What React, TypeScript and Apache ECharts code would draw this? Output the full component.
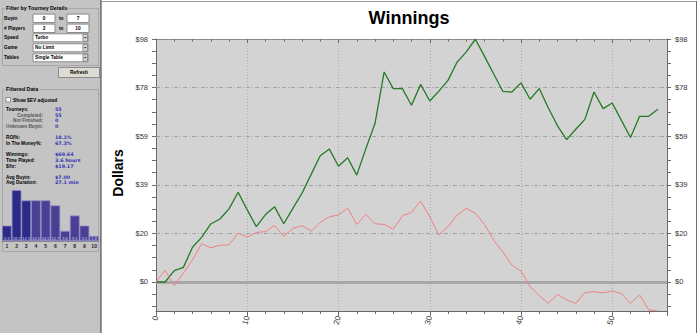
import React, { useEffect, useRef } from 'react';
import * as echarts from 'echarts';

// ---------- data ----------
const winnings = [0, 0, 4.6, 5.9, 14.0, 18.0, 23.4, 25.4, 29.5, 36.2, 29.1, 22.3, 27.2, 30.3, 23.5, 29.7, 35.8, 43.4, 50.9, 53.6, 46.7, 50.1, 43.1, 53.8, 63.9, 84.7, 78.0, 78.0, 71.3, 79.7, 73.0, 77.0, 81.3, 88.7, 92.8, 97.9, 91.0, 84.0, 76.9, 76.6, 80.3, 73.7, 78.0, 70.2, 63.0, 57.4, 61.6, 65.6, 76.6, 69.9, 72.2, 65.2, 58.3, 66.8, 66.8, 69.64];
const evAdjusted = [0, 4.7, -1.5, 3.5, 8.9, 15.4, 13.8, 14.8, 15.0, 19.7, 18.1, 20.0, 20.3, 22.8, 18.4, 21.6, 22.7, 20.5, 24.0, 26.3, 27.0, 29.9, 23.2, 27.2, 23.5, 23.2, 21.3, 26.7, 28.1, 32.6, 26.3, 18.9, 22.3, 27.0, 29.7, 27.7, 23.2, 16.9, 12.2, 6.8, 4.4, -1.9, -5.5, -8.6, -5.0, -7.2, -8.6, -4.3, -3.9, -4.4, -3.6, -4.7, -8.6, -5.2, -11.3, -11.7];

const yLabelValues = [0, 19.6, 39.2, 58.8, 78.4, 98];
const yTickValues = [-9.8, -4.9, 0, 4.9, 9.8, 14.7, 19.6, 24.5, 29.4, 34.3, 39.2, 44.1, 49, 53.9, 58.8, 63.7, 68.6, 73.5, 78.4, 83.3, 88.2, 93.1, 98];
const yMin = -11.7;
const yMax = 98;
const xMax = 56;

const finishPlaces = ['1', '2', '3', '4', '5', '6', '7', '8', '9', '10'];
const finishPct = [5.5, 18.2, 14.5, 14.5, 14.5, 12.7, 3.6, 9.1, 5.5, 1.8];

const filterLabels = ['Buyin', '# Players', 'Speed', 'Game', 'Tables'];
const buyinRange = ['0', '7'];
const playersRange = ['2', '10'];
const dropdownValues = ['Turbo', 'No Limit', 'Single Table'];

const statLabels = ['Tourneys:', 'Completed:', 'Not Finished:', 'Unknown Buyin:', 'ROI%:', 'In The Money%:', 'Winnings:', 'Time Played:', '$/hr:', 'Avg Buyin:', 'Avg Duration:'];
const statValues = ['55', '55', '0', '0', '18.1%', '67.3%', '$69.64', '3.6 hours', '$19.17', '$7.00', '27.1 min'];

// ---------- layout ----------
const SIDE_BG = '#c4c4c4';
const SF = '"Liberation Sans", Arial, sans-serif';
const DV = '"DejaVu Sans", Verdana, sans-serif';
const labelFont = `bold 4.7px ${SF}`;
const valueFont = `bold 4.8px ${DV}`;
const filterFont = `bold 4.8px ${SF}`;
const groupFont = `bold 5.3px ${SF}`;
const filterRowY = [18.3, 28.3, 37.8, 47.8, 57.8];
const statRowY = [109.3, 115, 120.4, 126.2, 137.3, 143.6, 154.7, 160.3, 166, 177, 182.7];
const statIndented = [false, true, true, true, false, false, false, false, false, false, false];

function txt(x: number, y: number, text: string, opts: any = {}) {
  return {
    type: 'text',
    x, y, z: 10,
    rotation: opts.rotation || 0,
    style: {
      text,
      fill: opts.fill || '#000',
      font: opts.font || labelFont,
      textAlign: opts.align || 'left',
      align: opts.align || 'left',
      textVerticalAlign: 'middle',
      verticalAlign: 'middle',
      backgroundColor: opts.bg,
      padding: opts.bg ? [0, 1] : undefined,
    },
  };
}
function box(x: number, y: number, w: number, h: number, fill: string, stroke: string, z = 5) {
  return { type: 'rect', z, shape: { x, y, width: w, height: h }, style: { fill, stroke, lineWidth: 1 } };
}

function buildGraphics() {
  const els: any[] = [];
  // sidebar background + separator
  els.push({ type: 'rect', z: 0, shape: { x: 0, y: 0, width: 101, height: 333 }, style: { fill: SIDE_BG } });
  els.push({ type: 'line', z: 1, shape: { x1: 100.5, y1: 0, x2: 100.5, y2: 333 }, style: { stroke: '#7a7a7a', lineWidth: 1 } });
  els.push({ type: 'line', z: 1, shape: { x1: 101.5, y1: 0, x2: 101.5, y2: 333 }, style: { stroke: '#9a9a9a', lineWidth: 1 } });
  // chart frame
  els.push({ type: 'line', z: 1, shape: { x1: 102, y1: 1.5, x2: 697, y2: 1.5 }, style: { stroke: '#9a9a9a', lineWidth: 1 } });
  els.push({ type: 'line', z: 1, shape: { x1: 696.5, y1: 1, x2: 696.5, y2: 333 }, style: { stroke: '#6e6e6e', lineWidth: 1 } });

  // group box 1
  els.push({ type: 'rect', z: 2, shape: { x: 2.5, y: 8.5, width: 96, height: 57 }, style: { fill: 'none', stroke: '#a8a8a8', lineWidth: 1 } });
  els.push(txt(5, 8, 'Filter by Tourney Details', { bg: SIDE_BG, font: groupFont }));
  filterLabels.forEach((l, i) => els.push(txt(4, filterRowY[i], l, { font: filterFont })));
  // range inputs
  [buyinRange, playersRange].forEach((rng, i) => {
    const y = filterRowY[i];
    els.push(box(33, y - 4.2, 22, 8.4, '#fff', '#8c8c8c'));
    els.push(box(67, y - 4.2, 22, 8.4, '#fff', '#8c8c8c'));
    els.push(txt(44, y, rng[0], { align: 'center', font: filterFont }));
    els.push(txt(78, y, rng[1], { align: 'center', font: filterFont }));
    els.push(txt(59, y, 'to', { font: filterFont }));
  });
  // dropdowns
  dropdownValues.forEach((v, k) => {
    const y = filterRowY[k + 2];
    els.push(box(33, y - 4, 55, 8, '#fff', '#8c8c8c'));
    els.push(box(83, y - 3.5, 4.5, 7, '#d8d8d8', '#8a8a8a', 6));
    els.push({ type: 'polygon', z: 7, shape: { points: [[84, y - 0.8], [86.5, y - 0.8], [85.25, y + 0.8]] }, style: { fill: '#222' } });
    els.push(txt(35, y, v, { font: filterFont }));
  });
  // refresh button
  els.push(box(58.5, 67.5, 41, 10, '#dedbd2', '#8c8c8c'));
  els.push(txt(79, 72.5, 'Refresh', { align: 'center', font: filterFont }));

  // group box 2
  els.push({ type: 'rect', z: 2, shape: { x: 2.5, y: 89.5, width: 96, height: 162 }, style: { fill: 'none', stroke: '#a8a8a8', lineWidth: 1 } });
  els.push(txt(5, 89, 'Filtered Data', { bg: SIDE_BG, font: groupFont }));
  els.push(box(6, 97.5, 4.5, 4.5, '#fff', '#8c8c8c'));
  els.push(txt(13, 100.3, 'Show $EV adjusted', { font: filterFont }));
  statLabels.forEach((l, i) => {
    if (statIndented[i]) els.push(txt(43, statRowY[i], l, { align: 'right', fill: '#555' }));
    else els.push(txt(6, statRowY[i], l));
    els.push(txt(55, statRowY[i], statValues[i], { fill: '#3232b4', font: valueFont }));
  });

  // title + axis name
  els.push(txt(409, 18, 'Winnings', { align: 'center', font: `bold 18px ${SF}`, fill: '#000' }));
  els.push(txt(118, 173, 'Dollars', { align: 'center', font: `bold 14px ${SF}`, fill: '#000', rotation: Math.PI / 2 }));
  return els;
}

const AXIS_C = '#6a6a6a';
const fmtDollar = (v: number) => '$' + Math.round(v);

const option: any = {
  animation: false,
  textStyle: { fontFamily: SF },
  grid: [
    { left: 156, right: 33, top: 39, bottom: 22, show: true, backgroundColor: '#d3d3d3', borderWidth: 0 },
    { left: 2, width: 97, top: 185, height: 56 },
  ],
  xAxis: [
    {
      gridIndex: 0, type: 'value', min: 0, max: xMax, interval: 10, position: 'bottom',
      axisLine: { show: true, onZero: false, lineStyle: { color: AXIS_C } },
      axisTick: { show: true, length: 5, lineStyle: { color: AXIS_C } },
      minorTick: { show: true, splitNumber: 5, length: 3, lineStyle: { color: AXIS_C } },
      axisLabel: { rotate: 75, fontSize: 8, color: '#333', margin: 5, showMaxLabel: false },
      splitLine: { show: true, lineStyle: { color: '#acacac', type: [1, 2] } },
    },
    {
      gridIndex: 0, type: 'value', min: 0, max: xMax, interval: 10, position: 'top',
      axisLine: { show: true, onZero: false, lineStyle: { color: '#8a8a8a' } },
      axisTick: { show: true, inside: true, length: 4, lineStyle: { color: AXIS_C } },
      minorTick: { show: true, splitNumber: 5, length: 2.5, lineStyle: { color: AXIS_C } },
      axisLabel: { show: false },
      splitLine: { show: false },
    },
    {
      gridIndex: 1, type: 'category', data: finishPlaces, z: 3,
      axisLine: { show: true, lineStyle: { color: '#8a8a8a' } },
      axisTick: { show: false },
      axisLabel: { fontSize: 5, fontWeight: 'bold', color: '#222', margin: 2 },
    },
  ],
  yAxis: [
    {
      gridIndex: 0, type: 'value', min: yMin, max: yMax, position: 'left',
      axisLine: { show: true, onZero: false, lineStyle: { color: AXIS_C } },
      axisTick: { show: true, length: 4, customValues: yTickValues, lineStyle: { color: AXIS_C } },
      axisLabel: { customValues: yLabelValues, formatter: fmtDollar, fontSize: 7.5, color: '#333', margin: 8 },
      splitLine: { show: false },
    },
    {
      gridIndex: 0, type: 'value', min: yMin, max: yMax, position: 'right',
      axisLine: { show: true, onZero: false, lineStyle: { color: AXIS_C } },
      axisTick: { show: true, length: 4, customValues: yTickValues, lineStyle: { color: AXIS_C } },
      axisLabel: { customValues: yLabelValues, formatter: fmtDollar, fontSize: 7.5, color: '#333', margin: 8 },
      splitLine: { show: false },
    },
    { gridIndex: 1, type: 'value', min: 0, max: 20, show: false },
  ],
  series: [
    {
      type: 'line', xAxisIndex: 0, yAxisIndex: 0, z: 3,
      data: winnings.map((v, i) => [i, v]),
      showSymbol: false, symbol: 'none',
      lineStyle: { color: '#257a25', width: 1.3 },
      markLine: {
        z: 1, silent: true, symbol: 'none', label: { show: false }, animation: false,
        lineStyle: { color: '#a2a2a2', type: [4, 2, 1, 2], width: 1 },
        data: [
          ...yLabelValues.filter((v) => v !== 0 && v !== yMax).map((v) => ({ yAxis: v })),
          { yAxis: 0, lineStyle: { color: '#a8a8a8', type: 'solid', width: 3 } },
        ],
      },
    },
    {
      type: 'line', xAxisIndex: 0, yAxisIndex: 0, z: 3,
      data: evAdjusted.map((v, i) => [i, v]),
      showSymbol: false, symbol: 'none',
      lineStyle: { color: '#f08080', width: 1 },
    },
    {
      type: 'bar', xAxisIndex: 2, yAxisIndex: 2, z: 3,
      barCategoryGap: '0%',
      data: finishPct.map((v, i) => ({
        value: v,
        itemStyle: { color: i < 3 ? '#2b2a86' : '#4a3f92', borderColor: '#8a86c8', borderWidth: 0.8 },
      })),
      label: { show: true, position: 'insideBottom', distance: 1, fontSize: 4, color: '#d8d8ff', formatter: (p: any) => String(p.value) },
    },
  ],
  graphic: { elements: buildGraphics() },
};

export default function App() {
  const ref = useRef<HTMLDivElement>(null);
  useEffect(() => {
    const chart = echarts.init(ref.current!, null, { renderer: 'svg' });
    chart.setOption(option);
    return () => chart.dispose();
  }, []);
  return <div ref={ref} style={{ position: 'fixed', left: 0, top: 0, width: 700, height: 333, background: '#fff' }} />;
}
